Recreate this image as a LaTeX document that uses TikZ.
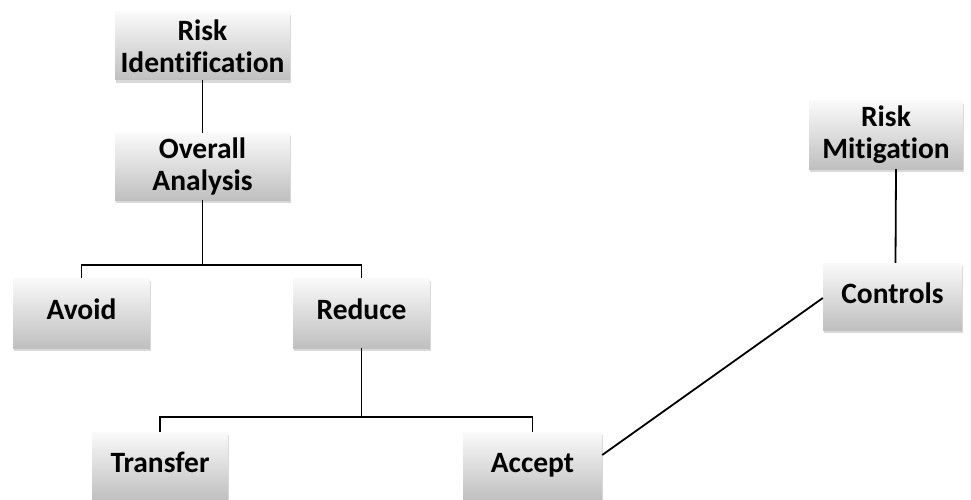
\documentclass[tikz,border=0pt]{standalone}
\usepackage{fontspec}
\setmainfont[Ligatures={NoCommon}]{Carlito}
\usetikzlibrary{shadows}
\begin{document}
\begin{tikzpicture}[x=1pt,y=-1pt,
  box/.style={rectangle, inner sep=0pt, align=center,
    top color=black!2, bottom color=black!25,
    font=\fontsize{29.5}{32}\selectfont\bfseries,
    drop shadow={shadow xshift=1pt, shadow yshift=-3pt, opacity=0.25, fill=black!60}},
  onebox/.style={box, text height=19pt, text depth=6pt},
  link/.style={line width=1.8pt, black}]
\useasboundingbox (0,0) rectangle (971,500);
\node[box, minimum width=175pt, minimum height=68pt] (ri) at (202.5,46) {Risk\\Identification};
\node[box, minimum width=175pt, minimum height=67pt] (oa) at (202.5,166.5) {Overall\\Analysis};
\node[onebox, minimum width=137pt, minimum height=70pt] (avoid) at (81.5,313) {Avoid};
\node[onebox, minimum width=137pt, minimum height=70pt] (reduce) at (361.5,313) {Reduce};
\node[onebox, minimum width=136pt, minimum height=68pt] (transfer) at (160,466) {Transfer};
\node[onebox, minimum width=139pt, minimum height=68pt] (accept) at (532.5,466) {Accept};
\node[box, minimum width=154pt, minimum height=68pt] (rm) at (886,135) {Risk\\Mitigation};
\node[onebox, minimum width=139pt, minimum height=67pt] (controls) at (892.5,296.5) {Controls};
\coordinate (j1) at (202.5,265);
\coordinate (j2) at (361.5,417);
\draw[link] (ri.south) -- (oa.north);
\draw[link] (oa.south) -- (j1);
\draw[link] (j1) -| (avoid.north);
\draw[link] (j1) -| (reduce.north);
\draw[link] (reduce.south) -- (j2);
\draw[link] (j2) -| (transfer.north);
\draw[link] (j2) -| (accept.north);
\draw[link] ([xshift=10pt]rm.south) -- ([xshift=3pt]controls.north);
\draw[link] ([yshift=11pt]accept.east) -- ([yshift=-1.5pt]controls.west);
\end{tikzpicture}
\end{document}
